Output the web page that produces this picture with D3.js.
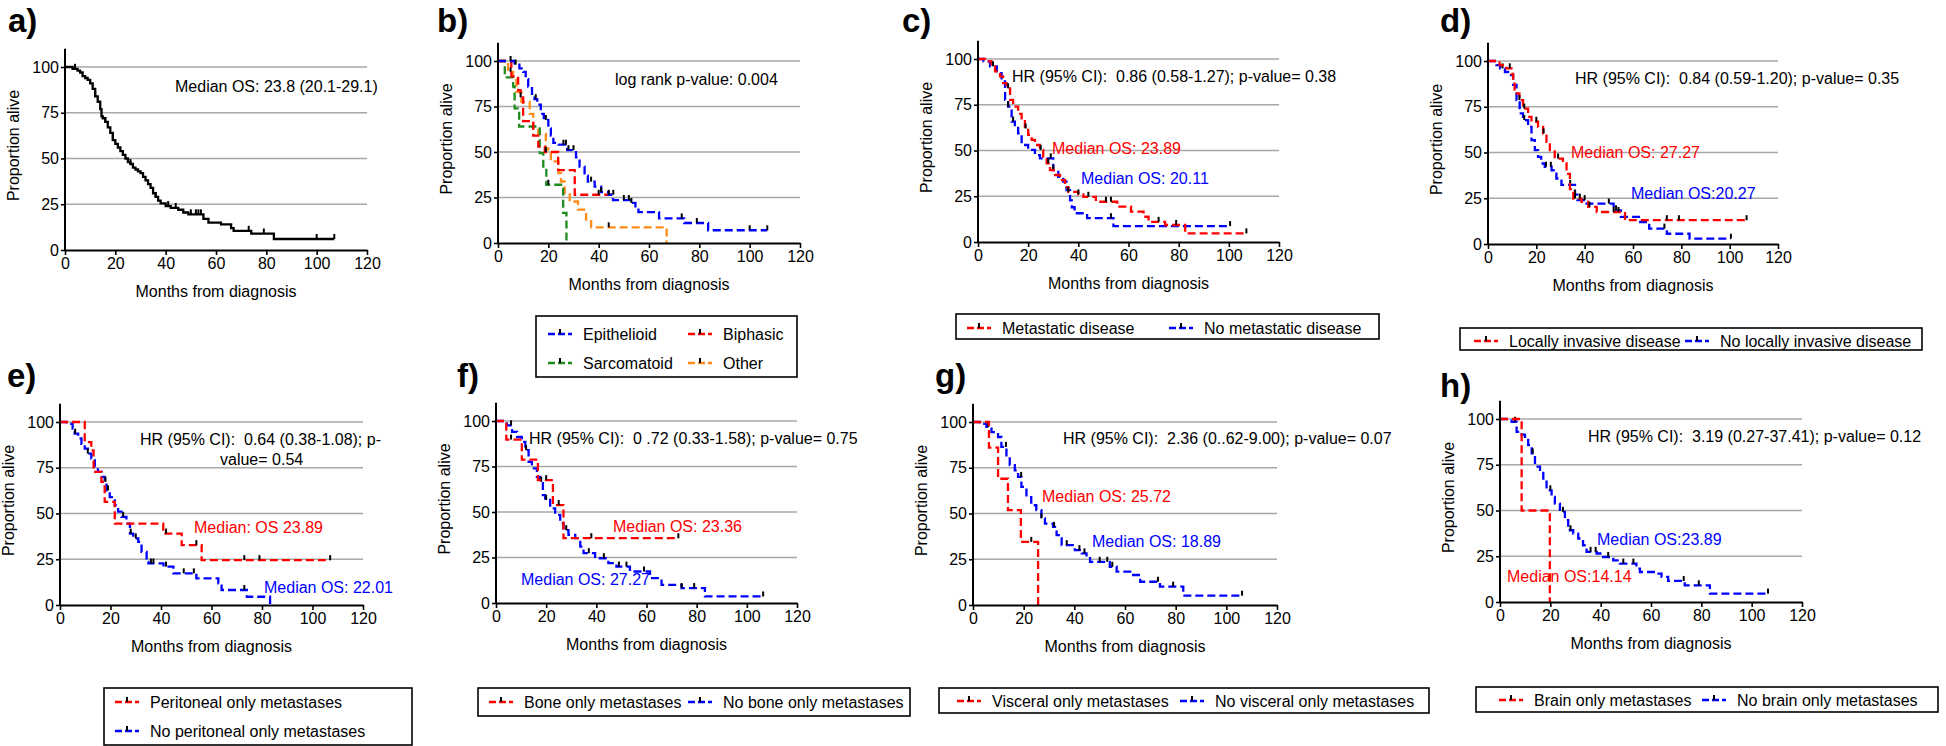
<!DOCTYPE html>
<html><head><meta charset="utf-8">
<script src="https://cdn.jsdelivr.net/npm/d3@7"></script>
<style>
body{margin:0;background:#fff}
svg text{font-family:"Liberation Sans",Arial,sans-serif;white-space:pre}
</style>
</head><body>
<svg id="chart" width="1946" height="746"></svg>
<script>
// ---------- tick labels ----------
const xTicks = [0, 20, 40, 60, 80, 100, 120];
const yTicks = [0, 25, 50, 75, 100];
const gridValues = [25, 50, 75, 100];

// ---------- a) overall ----------
const aAllSteps = [[0,100],[3,99],[5,98],[6,97],[7,95],[8,94],[9,93],[10,91],[11,88],[12,84],[13,81],[14,77],[14.5,73],[15,72],[16,70],[17,67],[18,64],[19,60],[20,58],[21,56],[22,54],[23,52],[24,50],[25,48],[26,47],[27,45],[28,44],[29,43],[30,42],[31,40],[32,38],[33,36],[34,34],[35,31],[36,29],[37,27],[38,25.5],[40,24],[42,23],[45,22],[47,20.5],[49,19.5],[55,17],[57,15],[62,14],[66,12],[67,10.5],[74,9],[83,6]];
const aAllEnd = 107;
const aAllCensor = [4,12,16,19,26,36,41,44,50,52,53,54,73,79,100,107];

// ---------- b) histology ----------
const bEpiSteps = [[0,100],[6.6,98],[8.5,96],[10,94],[11,90],[12,86],[13.5,82],[14.5,79],[15.6,76],[17,71],[18.2,67.6],[20,63],[21,59],[22,55],[24,54],[27.5,51],[31,47],[32.4,42],[34.4,37],[35.7,33.7],[38.4,31],[41,28],[44,26.5],[45.7,23.6],[53,22],[54.6,19],[55.8,17],[64,13.5],[74,11],[83.5,7]];
const bEpiEnd = 107;
const bEpiCensor = [5,7,15,19,26,27,28,30,37,41,44,50,52,53,73,79,100,107];
const bBiphSteps = [[0,100],[5.3,91.5],[8,84],[9,80],[10,67],[14,59],[16,53],[18.6,50],[23.9,40],[30.5,26.5]];
const bBiphEnd = 45.8;
const bBiphCensor = [9,19,40,45.8];
const bSarcSteps = [[0,100],[2.7,91],[6,86],[6.6,74],[8.4,64],[16.6,49.4],[18,42],[19.2,32],[25.9,16.5],[27.2,0]];
const bSarcEnd = 27.2;
const bSarcCensor = [20];
const bOtherSteps = [[0,100],[4,94],[6,89.6],[7.3,83],[9.3,77.5],[12.6,71],[14,63],[16,60],[19,52],[20,49.4],[21,44.8],[24,38.4],[25,33.8],[26.5,27.4],[28.5,22.8],[31.8,18.3],[35,12.8],[37,8.6],[67,0]];
const bOtherEnd = 67;
const bOtherCensor = [5,44];

// ---------- c) metastatic ----------
const cMetSteps = [[0,100],[2.8,98.7],[5.4,96],[6.8,93.2],[8.8,90.5],[10,86.8],[11.4,84],[12.8,77.7],[14,74],[16,70],[17.4,67.6],[18.7,62],[20,58.5],[21.4,55.8],[22.7,53],[24.7,50.3],[26,46.6],[27.4,43],[28.7,39.3],[30.7,36.6],[32.7,33.8],[34.7,30],[36,27.4],[40,26],[42,24.7],[47,22],[55.5,19.3],[61,16.6],[66,13.8],[68,11],[74.6,9.3],[82.6,4.7]];
const cMetEnd = 107;
const cMetCensor = [6,12,19,25,28,36,40,44,51,53,72,79,107];
const cNoMetSteps = [[0,100],[2.2,98.7],[4.8,96],[7.5,92.3],[9.4,87.8],[10.8,77.7],[12,74],[13.4,65.8],[14.7,63],[16,59.4],[17.4,53],[20,50.3],[22.7,47.5],[24.7,45.7],[30,39.3],[32,35.6],[34,33],[35.3,28.3],[36.7,22.8],[37.4,19],[38.5,15.7],[43.5,13],[54,8.7]];
const cNoMetEnd = 100.5;
const cNoMetCensor = [12,14,29,30,53,100.5];

// ---------- d) locally invasive ----------
const dLocSteps = [[0,100],[4.8,97.8],[7.6,96],[9.7,93],[10.4,88.7],[11,82.3],[13,78.6],[14.5,74],[16.6,69.5],[18,66.8],[20.7,64],[22.8,60.4],[24.2,55.8],[25.6,51.3],[27.6,46.7],[31,44],[32.5,38.3],[33.9,30],[35.3,24.8],[38.7,23],[41.5,20.3],[45,17.5],[56.7,13]];
const dLocEnd = 107;
const dLocCensor = [9,13,15,20,23,29,36,38,42,52,54,74,79,107];
const dNoLocSteps = [[0,100],[3.5,97.8],[5,96],[7,94],[8.3,92.3],[10.4,86.9],[11.8,78.6],[13.1,71.4],[14.5,67.7],[16.6,64],[18,56.8],[19.4,51.3],[20.7,47.6],[22,44],[23.5,42.2],[26.3,40.3],[28.3,35.8],[30.4,32.3],[36,27],[37,24],[40.8,22.1],[52,18.4],[55,14.8],[63,12],[66.7,8.4],[74,5.6],[83.4,2.9]];
const dNoLocEnd = 100.5;
const dNoLocCensor = [6,15,24,26,34,36,40,50,53,73,100.5];

// ---------- e) peritoneal ----------
const ePerSteps = [[0,100],[9.8,89],[12.4,84.5],[13.3,72.7],[16.4,67.3],[17.7,56.4],[21.7,44.5],[40.9,39],[48.2,32.7],[56.1,24.5]];
const ePerEnd = 107;
const ePerCensor = [42,54,73,79,107];
const eNoPerSteps = [[0,100],[2.6,99],[5,96.4],[5.8,93.6],[7.2,91],[8.5,88],[9.8,85.5],[11,82.7],[12.4,80],[13.8,75.5],[15,72.7],[16.4,70],[17.7,67.3],[18.4,62.7],[19.7,59],[21.7,54.5],[23,51],[24.3,48.2],[26.3,44.5],[27.7,39],[29,36.4],[31,34.5],[32.3,29],[34.3,23.6],[35,22.7],[41,21],[44.9,17.3],[54,14.5],[62.7,11.8],[64,8.2],[74,4.5],[83.2,0]];
const eNoPerEnd = 83.2;
const eNoPerCensor = [6,11,18,19,25,28,30,36,37,42,49,53,73];

// ---------- f) bone ----------
const fBoneSteps = [[0,100],[4.1,89.8],[10.3,78.8],[16.7,67.5],[22.7,53.8],[26.9,35.6]];
const fBoneEnd = 72.7;
const fBoneCensor = [6,20,25,38,72.7];
const fNoBoneSteps = [[0,100],[4.3,97.6],[6.4,94],[8.4,91.2],[10.3,88.5],[11.7,84],[13,77.5],[14.3,74],[16.3,69.3],[17.6,66.6],[18.7,59.3],[19.6,56.6],[21.6,52],[23.6,48.4],[25.6,43.8],[26.9,40],[28.9,37.4],[31.6,35.6],[33.6,31],[34.9,27.4],[39.5,24.6],[44.8,21.9],[48,20],[53.4,17.3],[61.4,13.7],[66,10],[74,8.2],[83.3,3.6]];
const fNoBoneEnd = 106.5;
const fNoBoneCensor = [6,12,18,20,28,37,43,49,52,59,74,79,106.5];

// ---------- g) visceral ----------
const gVisSteps = [[0,100],[6.3,86],[9.9,69],[13.8,51.8],[18.9,34.5],[25.7,0]];
const gVisEnd = 25.7;
const gVisCensor = [23];
const gNoVisSteps = [[0,100],[2.6,99],[5.3,97.3],[7.3,94.5],[9.9,91.8],[11.2,86.4],[13.2,81],[14.5,76.4],[16.5,73.6],[17.8,70],[19.1,64.5],[21.1,59],[23,54.5],[25,51.8],[27,47.3],[28.4,44.5],[31.6,42.7],[33,38.2],[35,32.7],[40.2,30],[42.9,28.2],[44.8,26.4],[46.2,23.6],[54,20.9],[56.7,18.2],[62.6,16.4],[66,12.7],[73.8,10],[83,5.1]];
const gNoVisEnd = 106.2;
const gNoVisCensor = [6,13,19,27,32,37,42,44,50,53,55,73,79,106.2];

// ---------- h) brain ----------
const hBrainSteps = [[0,100],[8.6,50],[19.8,0]];
const hBrainEnd = 19.8;
const hBrainCensor = [];
const hNoBrainSteps = [[0,100],[4.6,98.5],[6.6,93],[8.6,91.5],[9.9,90.3],[11.2,85.8],[12.6,81.2],[13.9,74],[15.9,71.2],[17.2,67.5],[18.5,61],[20.5,57.5],[21.8,53.8],[23.8,49.3],[25.8,44.7],[27.1,39.2],[29.1,37.4],[31.1,34.7],[33,31],[34.4,27.4],[38.4,26.5],[41,24.6],[45,22.8],[47.6,21],[54.2,18.2],[55.6,16.4],[62.2,15.5],[64.2,13.7],[66.8,11.5],[73.4,9.1],[83.4,4.6]];
const hNoBrainEnd = 106.5;
const hNoBrainCensor = [6,13,20,25,28,36,38,43,49,53,73,79,106.5];

// ---------- colours ----------
const RED = "#ff0000", BLUE = "#0000ff", GREEN = "#1e8c1e", ORANGE = "#ff8c1a", BLACK = "#000";

// ---------- panel layout ----------
const panels = [
 {label:"a)", lx:8, ly:32, x0:65, x1:367, y100:67, y0:250,
  series:[{steps:aAllSteps,end:aAllEnd,censor:aAllCensor,color:BLACK,solid:true}],
  notes:[{t:"Median OS: 23.8 (20.1-29.1)",x:175,y:86,c:BLACK}], legend:null},
 {label:"b)", lx:437, ly:32, x0:498, x1:800, y100:61, y0:243,
  series:[{steps:bOtherSteps,end:bOtherEnd,censor:bOtherCensor,color:ORANGE},
          {steps:bSarcSteps,end:bSarcEnd,censor:bSarcCensor,color:GREEN},
          {steps:bBiphSteps,end:bBiphEnd,censor:bBiphCensor,color:RED},
          {steps:bEpiSteps,end:bEpiEnd,censor:bEpiCensor,color:BLUE}],
  notes:[{t:"log rank p-value: 0.004",x:615,y:79,c:BLACK}],
  legend:{x:536,y:316,w:261,h:61,items:[
    {t:"Epithelioid",c:BLUE,sx:548,sy:334},{t:"Biphasic",c:RED,sx:688,sy:334},
    {t:"Sarcomatoid",c:GREEN,sx:548,sy:363},{t:"Other",c:ORANGE,sx:688,sy:363}]}},
 {label:"c)", lx:902, ly:32, x0:978, x1:1279, y100:59, y0:242,
  series:[{steps:cNoMetSteps,end:cNoMetEnd,censor:cNoMetCensor,color:BLUE},
          {steps:cMetSteps,end:cMetEnd,censor:cMetCensor,color:RED}],
  notes:[{t:"HR (95% CI):  0.86 (0.58-1.27); p-value= 0.38",x:1012,y:76,c:BLACK},
         {t:"Median OS: 23.89",x:1052,y:148,c:RED},{t:"Median OS: 20.11",x:1081,y:178,c:BLUE}],
  legend:{x:956,y:314,w:423,h:25,items:[
    {t:"Metastatic disease",c:RED,sx:967,sy:328},{t:"No metastatic disease",c:BLUE,sx:1169,sy:328}]}},
 {label:"d)", lx:1440, ly:32, x0:1488, x1:1778, y100:61, y0:244,
  series:[{steps:dNoLocSteps,end:dNoLocEnd,censor:dNoLocCensor,color:BLUE},
          {steps:dLocSteps,end:dLocEnd,censor:dLocCensor,color:RED}],
  notes:[{t:"HR (95% CI):  0.84 (0.59-1.20); p-value= 0.35",x:1575,y:78,c:BLACK},
         {t:"Median OS: 27.27",x:1571,y:152,c:RED},{t:"Median OS:20.27",x:1631,y:193,c:BLUE}],
  legend:{x:1460,y:328,w:462,h:22,items:[
    {t:"Locally invasive disease",c:RED,sx:1474,sy:341},{t:"No locally invasive disease",c:BLUE,sx:1685,sy:341}]}},
 {label:"e)", lx:7, ly:387, x0:60, x1:363, y100:422, y0:605,
  series:[{steps:eNoPerSteps,end:eNoPerEnd,censor:eNoPerCensor,color:BLUE},
          {steps:ePerSteps,end:ePerEnd,censor:ePerCensor,color:RED}],
  notes:[{t:"HR (95% CI):  0.64 (0.38-1.08); p-",x:140,y:439,c:BLACK},{t:"value= 0.54",x:220,y:459,c:BLACK},
         {t:"Median: OS 23.89",x:194,y:527,c:RED},{t:"Median OS: 22.01",x:264,y:587,c:BLUE}],
  legend:{x:104,y:688,w:308,h:57,items:[
    {t:"Peritoneal only metastases",c:RED,sx:115,sy:702},{t:"No peritoneal only metastases",c:BLUE,sx:115,sy:731}]}},
 {label:"f)", lx:457, ly:387, x0:496, x1:797, y100:421, y0:603,
  series:[{steps:fNoBoneSteps,end:fNoBoneEnd,censor:fNoBoneCensor,color:BLUE},
          {steps:fBoneSteps,end:fBoneEnd,censor:fBoneCensor,color:RED}],
  notes:[{t:"HR (95% CI):  0 .72 (0.33-1.58); p-value= 0.75",x:529,y:438,c:BLACK},
         {t:"Median OS: 23.36",x:613,y:526,c:RED},{t:"Median OS: 27.27",x:521,y:579,c:BLUE}],
  legend:{x:478,y:688,w:432,h:28,items:[
    {t:"Bone only metastases",c:RED,sx:489,sy:702},{t:"No bone only metastases",c:BLUE,sx:688,sy:702}]}},
 {label:"g)", lx:935, ly:387, x0:973, x1:1277, y100:422, y0:605,
  series:[{steps:gNoVisSteps,end:gNoVisEnd,censor:gNoVisCensor,color:BLUE},
          {steps:gVisSteps,end:gVisEnd,censor:gVisCensor,color:RED}],
  notes:[{t:"HR (95% CI):  2.36 (0..62-9.00); p-value= 0.07",x:1063,y:438,c:BLACK},
         {t:"Median OS: 25.72",x:1042,y:496,c:RED},{t:"Median OS: 18.89",x:1092,y:541,c:BLUE}],
  legend:{x:939,y:688,w:490,h:25,items:[
    {t:"Visceral only metastases",c:RED,sx:957,sy:701},{t:"No visceral only metastases",c:BLUE,sx:1180,sy:701}]}},
 {label:"h)", lx:1440, ly:397, x0:1500, x1:1802, y100:419, y0:602,
  series:[{steps:hNoBrainSteps,end:hNoBrainEnd,censor:hNoBrainCensor,color:BLUE},
          {steps:hBrainSteps,end:hBrainEnd,censor:hBrainCensor,color:RED}],
  notes:[{t:"HR (95% CI):  3.19 (0.27-37.41); p-value= 0.12",x:1588,y:436,c:BLACK},
         {t:"Median OS:23.89",x:1597,y:539,c:BLUE},{t:"Median OS:14.14",x:1507,y:576,c:RED}],
  legend:{x:1476,y:687,w:462,h:25,items:[
    {t:"Brain only metastases",c:RED,sx:1499,sy:700},{t:"No brain only metastases",c:BLUE,sx:1702,sy:700}]}}
];

const svg = d3.select("#chart");
const FS = 16;

function stepPath(steps, end, x, y) {
  let d = "M" + x(steps[0][0]) + "," + y(steps[0][1]);
  for (let i = 1; i < steps.length; i++) {
    d += "H" + x(steps[i][0]) + "V" + y(steps[i][1]);
  }
  d += "H" + x(end);
  return d;
}
function survAt(steps, t) {
  let s = steps[0][1];
  for (const p of steps) { if (p[0] <= t) s = p[1]; else break; }
  return s;
}

panels.forEach(p => {
  const g = svg.append("g");
  const x = d3.scaleLinear().domain([0, 120]).range([p.x0, p.x1]);
  const y = d3.scaleLinear().domain([0, 100]).range([p.y0, p.y100]);

  // gridlines
  g.selectAll("line.grid").data(gridValues).enter().append("line")
    .attr("x1", x(0)).attr("x2", x(120)).attr("y1", d => y(d)).attr("y2", d => y(d))
    .attr("stroke", "#a8a8a8").attr("stroke-width", 1.6);

  // curves
  p.series.forEach(s => {
    g.append("path").attr("d", stepPath(s.steps, s.end, x, y))
      .attr("fill", "none").attr("stroke", s.color).attr("stroke-width", 2.3)
      .attr("stroke-dasharray", s.solid ? null : "8,4");
    g.selectAll(null).data(s.censor).enter().append("line")
      .attr("x1", d => x(d)).attr("x2", d => x(d))
      .attr("y1", d => y(survAt(s.steps, d))).attr("y2", d => y(survAt(s.steps, d)) - 5)
      .attr("stroke", "#000").attr("stroke-width", 2);
  });

  // axes
  const xa = g.append("g").attr("transform", `translate(0,${y(0)})`)
    .call(d3.axisBottom(x).tickValues(xTicks).tickSize(5).tickSizeOuter(0).tickPadding(3));
  xa.select(".domain").attr("stroke", "#000").attr("stroke-width", 2);
  xa.selectAll(".tick line").attr("stroke", "#000").attr("stroke-width", 1.6);
  xa.selectAll("text").attr("font-size", FS).attr("fill", "#000").style("font-family", "Liberation Sans, Arial, sans-serif");

  const ya = g.append("g").attr("transform", `translate(${x(0)},0)`)
    .call(d3.axisLeft(y).tickValues(yTicks).tickSize(4).tickSizeOuter(0).tickPadding(2));
  ya.select(".domain").remove();
  ya.selectAll(".tick line").attr("stroke", "#000").attr("stroke-width", 1.6);
  ya.selectAll("text").attr("font-size", FS).attr("fill", "#000").style("font-family", "Liberation Sans, Arial, sans-serif");
  g.append("line").attr("x1", x(0)).attr("x2", x(0)).attr("y1", y(0) + 1).attr("y2", y(110))
    .attr("stroke", "#000").attr("stroke-width", 2);

  // axis titles
  g.append("text").attr("x", (x(0) + x(120)) / 2).attr("y", y(0) + 47)
    .attr("text-anchor", "middle").attr("font-size", FS).text("Months from diagnosis");
  g.append("text").attr("transform", `translate(${x(0) - 52},${y(50) - 13}) rotate(-90)`)
    .attr("text-anchor", "middle").attr("dy", "0.35em").attr("font-size", FS).text("Proportion alive");

  // annotations
  p.notes.forEach(n => {
    g.append("text").attr("x", n.x).attr("y", n.y).attr("dy", "0.36em")
      .attr("font-size", FS).attr("fill", n.c).text(n.t);
  });

  // panel label
  g.append("text").attr("x", p.lx).attr("y", p.ly).attr("font-size", 33)
    .attr("font-weight", "bold").text(p.label);

  // legend
  if (p.legend) {
    const L = p.legend;
    g.append("rect").attr("x", L.x).attr("y", L.y).attr("width", L.w).attr("height", L.h)
      .attr("fill", "none").attr("stroke", "#000").attr("stroke-width", 1.6);
    L.items.forEach(it => {
      g.append("line").attr("x1", it.sx).attr("x2", it.sx + 24).attr("y1", it.sy).attr("y2", it.sy)
        .attr("stroke", it.c).attr("stroke-width", 2.3).attr("stroke-dasharray", "7,3");
      g.append("line").attr("x1", it.sx + 12).attr("x2", it.sx + 12).attr("y1", it.sy).attr("y2", it.sy - 5)
        .attr("stroke", "#000").attr("stroke-width", 2);
      g.append("text").attr("x", it.sx + 35).attr("y", it.sy).attr("dy", "0.36em")
        .attr("font-size", FS).text(it.t);
    });
  }
});
</script>
</body></html>
